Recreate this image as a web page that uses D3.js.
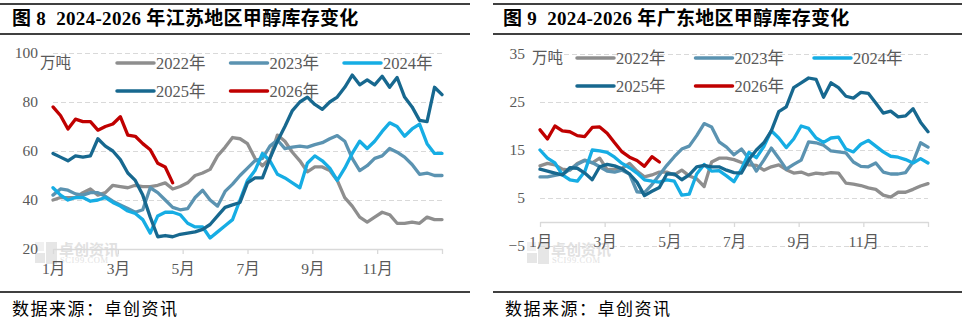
<!DOCTYPE html>
<html>
<head>
<meta charset="utf-8">
<script src="https://cdn.jsdelivr.net/npm/d3@7"></script>
<style>
  html, body { margin: 0; padding: 0; background: #fff; }
  svg { display: block; }
</style>
</head>
<body>
<svg id="chart" width="962" height="324"></svg>
<script>
// ---- data -------------------------------------------------------------
const monthTicks = [1, 3, 5, 7, 9, 11, 13];
const seriesNames = ["2022年", "2023年", "2024年", "2025年", "2026年"];

// 江苏 weekly inventory (万吨)
const jsTicks = [20, 40, 60, 80, 100];
const js2022 = [40,41,41,41,43,44.5,42,43,46,45.5,45,46,45.5,45.5,46,47,44.5,45.5,47,50,51,52.5,58,61.5,65.5,65,63,57,54,57,66.5,64,59.5,56,51.5,53.5,53.5,52,48,41,37.5,33,31,33,35,34,30.5,30.5,31,30.5,33,32,32];
const js2023 = [42,44.5,44,42.5,42,43,43,41.5,39.5,38,36.5,35,36,45,43,40,37,36,36.5,41,44,40,37.5,43.5,46.5,50,53,56,57,62,64.5,61,61.6,62,61.6,62.6,63.4,65,66.3,64,57,52,54,57,58,61,59.5,57.5,54.5,50.5,51,50,50];
const js2024 = [45,42,40,41,41,39.5,40,41,39,37.5,35.5,34.5,32,26.5,33.5,35,35,34,30.5,29,29,24.5,27,29.5,32,40,48,52,59,56,50.5,49,47,45,55,58,56,53,48,53,59,64,61,64,68,71.5,70,66,69,71,63,59,59];
const js2025 = [59,57.5,56,58,57.5,58,65,62,60,56.5,51,48,42,33,25,25.5,25,26,26.5,27,28,30,33.5,37,38,39,47,49,49,57,64,70,76.5,80,82,79,77,80,82,86,91,87,89,87,90.5,86,90,82,78,72.5,72,86,83];
const js2026 = [78,74.5,69,73,72,72,68.5,70,71,74,66.5,66,63,60.5,55,53.5,47];

// 广东 weekly inventory (万吨)
const gdTicks = [-5, 5, 15, 25, 35];
const gd2022 = [11.7,12.2,11.9,11,10.8,12.2,12.9,12.3,13.3,10.9,11,11.2,12.2,10.6,9.4,9.8,10.4,10.4,9.8,10.8,9.6,9,7.4,12.5,13.3,13.3,13,12.4,11.9,11.8,10.8,11.5,11.9,10.9,10.2,10.4,9.8,10.2,10,10.3,10.2,8.1,7.9,7.6,7.1,6.8,5.6,5.2,6.2,6.2,6.8,7.5,8];
const gd2023 = [9.4,9.4,9.7,10,10.9,12,12.8,12.4,11.5,10.6,10.4,10.8,10,6.3,6.1,7.8,9.8,11.8,13.6,15.2,15.8,18,20.5,19.8,16.7,15.6,14,15.2,13.2,10.6,12.9,15.4,13.3,11,12,12.9,16.7,16.5,16,14.8,14.6,14.4,12.5,11.6,11.5,12.3,10.4,10,10,10.3,12.5,16.5,15.6];
const gd2024 = [15,13.3,12.3,9.8,8.8,8.5,10.5,15,14.8,14.5,13.5,12.2,11.3,10.2,8.8,8.5,8.3,8.8,8.5,5.6,5.8,10,12,10.6,10.7,9.6,8.4,11,14.5,13.4,15.7,19,17.5,15.5,17.3,20,19.5,17.5,16.6,17.5,17.7,15.2,14.6,16.2,17,15.8,14.6,13.7,13.5,13,12.3,13.2,12.3];
const gd2025 = [11,10.6,10.2,9.8,11.3,11.2,10.2,8.8,11.5,12,11.7,11.1,10,8.3,5.5,6.4,7.2,10,10,8.8,9.8,11.5,11.8,11.5,11.5,10.8,10.3,10.2,13,15,16.5,19,23,24,28,29,30,29.7,26,29,28,26.2,25.8,27,26.8,24.8,22.7,23.1,21.9,22.1,23.6,20.8,18.8];
const gd2026 = [19.2,17.3,20,19,18.8,18,17.8,19.7,19.8,18.5,16.5,14.6,13.5,12.8,11.6,13.6,12.5];

// ---- styling ----------------------------------------------------------
const palette = ["#8e8e8e", "#5b93b1", "#16ade4", "#17688f", "#c00000"];
const FONT = "'Liberation Serif','Noto Sans CJK SC',serif";
const TEXT = "#595959";
const GRID = "#d9d9d9";
const WEEKS_PER_YEAR = 52;

const svg = d3.select("#chart");
svg.append("rect").attr("width", 962).attr("height", 324).attr("fill", "#fff");

const panels = [
  {
    frame: [0, 470], titleX: 12,
    title: "图 8  2024-2026 年江苏地区甲醇库存变化",
    plotX: [53, 442], plotY: [249, 53], domain: [20, 100],
    ticks: jsTicks, axisAt: 20,
    series: [js2022, js2023, js2024, js2025, js2026],
    unit: [40, 63], legendX: 117, legendCol: 113.5, legendY: 63,
    mark: [35, 242]
  },
  {
    frame: [493, 962], titleX: 503,
    title: "图 9  2024-2026 年广东地区甲醇库存变化",
    plotX: [540, 928], plotY: [246, 54], domain: [-5, 35],
    ticks: gdTicks, axisAt: 0,
    series: [gd2022, gd2023, gd2024, gd2025, gd2026],
    unit: [532, 58], legendX: 577, legendCol: 118.5, legendY: 58,
    mark: [527, 242]
  }
];

panels.forEach(p => {
  const g = svg.append("g");

  // frame rules and title
  [4, 34, 292].forEach(yy => {
    g.append("line")
      .attr("x1", p.frame[0]).attr("x2", p.frame[1])
      .attr("y1", yy).attr("y2", yy)
      .attr("stroke", "#000").attr("stroke-width", 1.5);
  });
  g.append("text")
    .attr("x", p.titleX).attr("y", 25)
    .attr("font-family", FONT).attr("font-weight", "bold")
    .attr("font-size", 19).attr("fill", "#000")
    .attr("letter-spacing", 0.3)
    .style("white-space", "pre")
    .text(p.title);
  g.append("text")
    .attr("x", p.frame[0] + 12).attr("y", 315)
    .attr("font-family", FONT).attr("font-size", 17)
    .attr("letter-spacing", 1.5).attr("fill", "#000")
    .text("数据来源：卓创资讯");

  const x = d3.scaleLinear().domain([1, 13]).range(p.plotX);
  const y = d3.scaleLinear().domain(p.domain).range(p.plotY);
  const weekX = i => x(1 + i * 12 / WEEKS_PER_YEAR);

  // watermark
  const wm = g.append("g").attr("opacity", 0.5);
  const [mx, my] = p.mark;
  [[0, 0, 9], [11, 0, 11], [0, 11, 10], [11, 11, 11]].forEach(([dx, dy, s], k) => {
    wm.append("rect").attr("x", mx + dx).attr("y", my + dy)
      .attr("width", s).attr("height", s)
      .attr("fill", k === 0 ? "#e3e3e3" : "#cfcfcf");
  });
  wm.append("text").attr("x", mx + 24).attr("y", my + 13)
    .attr("font-family", FONT).attr("font-size", 15).attr("font-weight", "bold")
    .attr("fill", "#c4c4c4").text("卓创资讯");
  wm.append("text").attr("x", mx + 25).attr("y", my + 21)
    .attr("font-family", FONT).attr("font-size", 8.5)
    .attr("fill", "#c4c4c4").attr("letter-spacing", 0.6).text("SCI99.COM");

  // dashed gridlines
  g.append("g").selectAll("line")
    .data(p.ticks.filter(t => t !== p.axisAt))
    .join("line")
    .attr("x1", p.plotX[0]).attr("x2", p.plotX[1])
    .attr("y1", d => Math.round(y(d)) + 0.5).attr("y2", d => Math.round(y(d)) + 0.5)
    .attr("stroke", GRID).attr("stroke-dasharray", "5,3");

  // y tick labels
  g.append("g").selectAll("text")
    .data(p.ticks)
    .join("text")
    .attr("x", p.plotX[0] - 15).attr("y", d => y(d))
    .attr("dy", "0.34em").attr("text-anchor", "end")
    .attr("font-family", FONT).attr("font-size", 15.5).attr("fill", TEXT)
    .text(d => d3.format("")(d));

  // x axis (months)
  const axis = d3.axisBottom(x)
    .tickValues(monthTicks)
    .tickFormat(m => m < 13 ? m + "月" : "")
    .tickSizeInner(5).tickSizeOuter(0).tickPadding(9);
  const ax = g.append("g")
    .attr("transform", `translate(0,${Math.round(y(p.axisAt))})`)
    .call(axis);
  ax.select(".domain").attr("stroke", GRID).attr("stroke-width", 1.3);
  ax.selectAll(".tick line").attr("stroke", GRID).attr("stroke-width", 1.3);
  ax.selectAll(".tick text")
    .attr("font-family", FONT).attr("font-size", 15.5).attr("fill", TEXT);

  // series lines
  const line = d3.line().x((d, i) => weekX(i)).y(d => y(d)).curve(d3.curveLinear);
  g.append("g").selectAll("path")
    .data(p.series)
    .join("path")
    .attr("d", d => line(d))
    .attr("fill", "none")
    .attr("stroke", (d, i) => palette[i])
    .attr("stroke-width", 3.3)
    .attr("stroke-linejoin", "round")
    .attr("stroke-linecap", "round");

  // unit label
  g.append("text")
    .attr("x", p.unit[0]).attr("y", p.unit[1]).attr("dy", "0.35em")
    .attr("font-family", FONT).attr("font-size", 15.5).attr("fill", TEXT)
    .text("万吨");

  // legend
  const lg = g.append("g").selectAll("g")
    .data(seriesNames)
    .join("g")
    .attr("transform", (d, i) => `translate(${p.legendX + (i % 3) * p.legendCol},${p.legendY + Math.floor(i / 3) * 28})`);
  lg.append("line")
    .attr("x1", 0).attr("x2", 37).attr("y1", 0).attr("y2", 0)
    .attr("stroke", (d, i) => palette[i]).attr("stroke-width", 3.5)
    .attr("stroke-linecap", "round");
  lg.append("text")
    .attr("x", 39).attr("y", 0).attr("dy", "0.36em")
    .attr("font-family", FONT).attr("font-size", 16.5).attr("fill", TEXT)
    .text(d => d);
});
</script>
</body>
</html>
